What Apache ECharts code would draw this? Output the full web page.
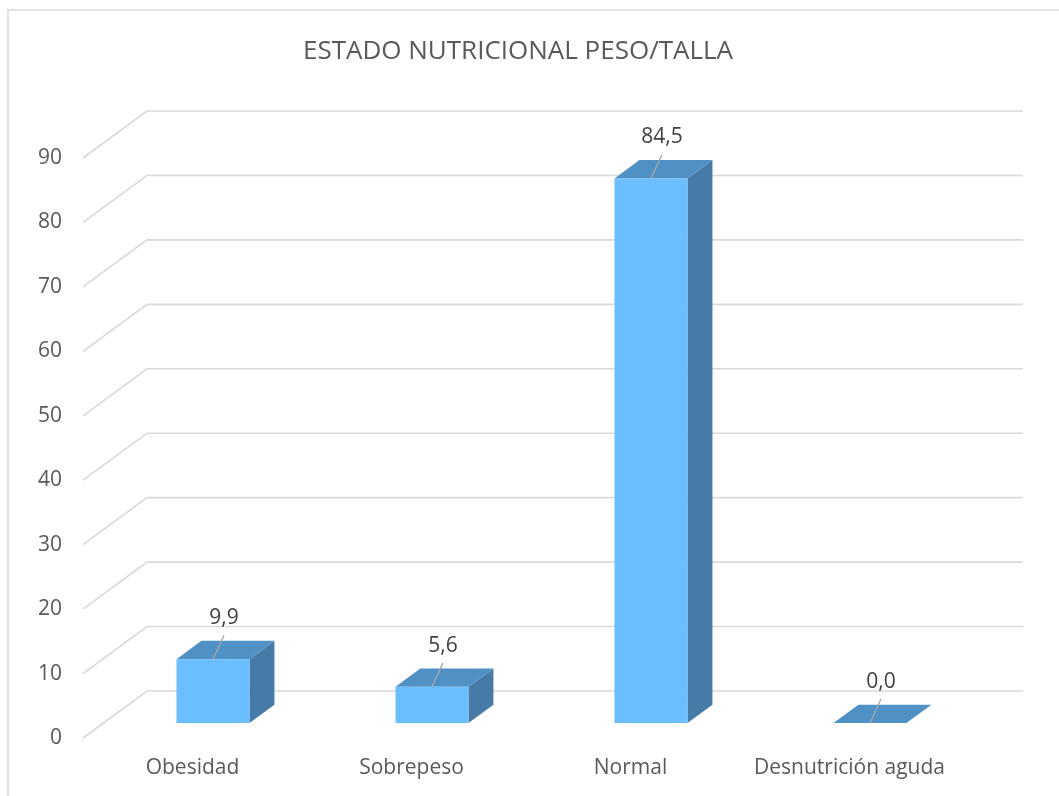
<!DOCTYPE html>
<html>
<head>
<meta charset="utf-8">
<title>Estado nutricional peso/talla</title>
<script src="https://cdn.jsdelivr.net/npm/echarts@6/dist/echarts.min.js"></script>
<style>
  html, body { margin: 0; padding: 0; background: #ffffff; }
  #chart { width: 1059px; height: 796px; }
</style>
</head>
<body>
<div id="chart"></div>
<script>
// Data
const categories = ['Obesidad', 'Sobrepeso', 'Normal', 'Desnutrición aguda'];
const values = [9.9, 5.6, 84.5, 0.0];
const yTicks = [0, 10, 20, 30, 40, 50, 60, 70, 80, 90];
const titleText = 'ESTADO NUTRICIONAL PESO/TALLA';

// Look
const FONT = "'Open Sans', sans-serif";
const DEPTH = [64, -47];      // floor depth: front edge -> back wall
const BAR_FRONT = 0.32;       // where the bar's front face sits in the depth
const BAR_THICK = 0.39;       // bar depth as a share of the floor depth
const COLORS = {
  front: '#6CBFFF',
  top: '#5091C5',
  side: '#457BA6',
  grid: '#D9D9D9',
  axisText: '#595959',
  label: '#404040',
  leader: '#A6A6A6',
  border: '#D9D9D9'
};

const fmt = v => v.toFixed(1).replace('.', ',');

// Perspective gridline: left wall diagonal, then along the back wall
function renderGridLine(params, api) {
  const cs = params.coordSys;
  const y = api.coord([0, api.value(1)])[1];
  const x0 = cs.x, x1 = cs.x + cs.width;
  return {
    type: 'polyline',
    shape: { points: [[x0, y], [x0 + DEPTH[0], y + DEPTH[1]], [x1 + DEPTH[0], y + DEPTH[1]]] },
    style: { stroke: COLORS.grid, lineWidth: 1.6, fill: null },
    silent: true
  };
}

// Box-shaped bar with front, top and right faces plus a value label
function renderBar(params, api) {
  const idx = api.value(0);
  const v = api.value(1);
  const top = api.coord([idx, v]);
  const base = api.coord([idx, 0]);
  const band = api.size([1, 0])[0];
  const hw = band / 6;
  const ox = DEPTH[0] * BAR_FRONT, oy = DEPTH[1] * BAR_FRONT;
  const dx = DEPTH[0] * BAR_THICK, dy = DEPTH[1] * BAR_THICK;
  const xl = top[0] - hw + ox, xr = top[0] + hw + ox;
  const yt = top[1] + oy, yb = base[1] + oy;
  const cx = top[0] + ox;
  const lx = cx + 11;
  return {
    type: 'group',
    children: [
      {
        type: 'polygon',
        shape: { points: [[xr, yt], [xr + dx, yt + dy], [xr + dx, yb + dy], [xr, yb]] },
        style: { fill: COLORS.side }
      },
      {
        type: 'polygon',
        shape: { points: [[xl, yt], [xr, yt], [xr + dx, yt + dy], [xl + dx, yt + dy]] },
        style: { fill: COLORS.top }
      },
      {
        type: 'rect',
        shape: { x: xl, y: yt, width: xr - xl, height: yb - yt },
        style: { fill: COLORS.front }
      },
      {
        type: 'line',
        shape: { x1: cx, y1: yt, x2: lx, y2: yt - 24 },
        style: { stroke: COLORS.leader, lineWidth: 1.3 }
      },
      {
        type: 'text',
        style: {
          text: fmt(v), x: lx, y: yt - 41,
          align: 'center', verticalAlign: 'middle',
          fontFamily: FONT, fontSize: 21, fill: COLORS.label
        }
      }
    ]
  };
}

const chart = echarts.init(document.getElementById('chart'), null, { renderer: 'canvas' });

chart.setOption({
  animation: false,
  backgroundColor: '#ffffff',
  grid: { left: 83, right: 100, top: 158, bottom: 58, containLabel: false },
  xAxis: {
    type: 'category',
    data: categories,
    axisLine: { show: false },
    axisTick: { show: false },
    splitLine: { show: false },
    axisLabel: { interval: 0, color: COLORS.axisText, fontFamily: FONT, fontSize: 21, margin: 20 }
  },
  yAxis: {
    type: 'value',
    min: 0, max: 90, interval: 10,
    axisLine: { show: false },
    axisTick: { show: false },
    splitLine: { show: false },
    axisLabel: { color: COLORS.axisText, fontFamily: FONT, fontSize: 21, margin: 21 }
  },
  graphic: [
    {
      type: 'rect',
      shape: { x: 8, y: 10, width: 1200, height: 1000 },
      style: { fill: null, stroke: COLORS.border, lineWidth: 1.5 },
      silent: true, z: -10
    },
    {
      type: 'text',
      x: 518, y: 52,
      style: {
        text: titleText, align: 'center', verticalAlign: 'middle',
        fontFamily: FONT, fontSize: 26, fill: COLORS.axisText
      }
    }
  ],
  series: [
    {
      type: 'custom',
      name: 'grid',
      silent: true,
      renderItem: renderGridLine,
      encode: { x: 0, y: 1 },
      data: yTicks.map(t => [0, t]),
      z: 1
    },
    {
      type: 'custom',
      name: 'Estado nutricional',
      renderItem: renderBar,
      encode: { x: 0, y: 1 },
      data: values.map((v, i) => [i, v]),
      z: 2
    }
  ]
});
</script>
</body>
</html>
